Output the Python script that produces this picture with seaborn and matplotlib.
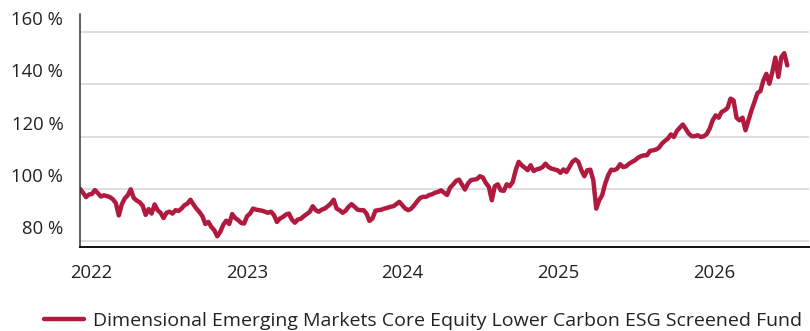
import matplotlib
matplotlib.use("Agg")
import matplotlib.pyplot as plt
import matplotlib.dates as mdates
from matplotlib.transforms import ScaledTranslation
import numpy as np
import pandas as pd
import seaborn as sns

# ---- data -------------------------------------------------------------
fund_name = "Dimensional Emerging Markets Core Equity Lower Carbon ESG Screened Fund"
start_date = "2021-12-06"          # first weekly observation
year_ticks = ["2022", "2023", "2024", "2025", "2026"]
y_ticks = [80, 100, 120, 140, 160]

# weekly growth of 100 (percent of initial value)
values_2022 = [
    100.0, 98.5, 96.8, 97.8, 98.0, 99.5, 98.3, 97.0, 97.5, 97.2,
    96.8, 96.0, 94.5, 89.8, 94.0, 96.3, 97.5, 99.8, 96.5, 95.5,
    94.8, 93.5, 90.0, 92.2, 90.5, 94.0, 91.8, 90.8, 88.8, 90.8,
    91.2, 90.5, 91.8, 91.5, 92.4, 93.7, 94.3, 95.8, 94.0, 92.4,
    91.1, 89.5, 86.5, 87.3, 85.4, 84.1, 81.8, 83.5, 86.2, 87.8,
    86.5, 90.3, 88.8, 88.0, 86.9,
]
values_2023 = [
    86.7, 89.5, 90.5, 92.4, 92.0, 91.8, 91.6, 91.2, 90.8, 91.2,
    89.9, 87.3, 88.6, 89.2, 90.1, 90.5, 88.2, 87.0, 88.2, 88.5,
    89.5, 90.3, 91.2, 93.3, 91.8, 91.2, 92.0, 92.4, 93.3, 94.3,
    95.8, 92.4, 91.8, 90.8, 91.6, 93.1, 94.1, 93.1, 92.0, 91.8,
    91.8, 90.5, 87.7, 88.6, 91.6, 91.8, 92.0, 92.4, 92.7, 93.1,
    93.3, 94.1, 95.0, 93.7, 92.4, 91.8,
]
values_2024 = [
    92.4, 93.7, 95.2, 96.5, 96.9, 96.9, 97.6, 97.9, 98.5, 98.8,
    99.4, 98.5, 97.6, 100.4, 101.6, 103.0, 103.5, 101.6, 99.7, 102.0,
    103.3, 103.5, 103.7, 104.8, 104.3, 102.2, 100.7, 95.6, 101.0, 101.7,
    99.4, 99.2, 101.7, 101.0, 102.6, 107.1, 110.3, 109.0, 108.1, 107.1,
    109.0, 106.8, 107.4, 107.7, 108.3, 109.6, 108.3, 107.7, 107.4, 107.1,
    106.1, 107.4, 106.4,
]
values_2025 = [
    108.3, 110.3, 111.2, 110.3, 107.1, 104.8, 107.1, 107.3, 103.3, 92.4,
    95.6, 97.6, 102.0, 105.2, 107.3, 107.1, 107.7, 109.4, 108.3, 108.6,
    109.6, 110.3, 110.9, 111.9, 112.5, 112.8, 112.8, 114.5, 114.7, 115.0,
    115.7, 117.3, 118.3, 119.2, 120.8, 119.8, 122.1, 123.4, 124.6, 122.9,
]
values_2026 = [
    121.1, 120.1, 120.1, 120.5, 119.8, 120.1, 120.9, 123.0, 126.2, 128.1,
    127.2, 129.4, 130.0, 131.0, 134.5, 133.8, 127.2, 126.2, 127.2, 122.4,
    126.2, 130.0, 133.2, 136.6, 137.4, 141.5, 144.0, 140.2, 144.7, 150.2,
    142.8, 150.4, 151.9, 147.2,
]

values = values_2022 + values_2023 + values_2024 + values_2025 + values_2026
df = pd.DataFrame({
    "date": pd.date_range(start_date, periods=len(values), freq="7D"),
    "value": values,
})

# ---- style ------------------------------------------------------------
sns.set_theme(style="white")
plt.rcParams["font.family"] = ["Open Sans", "DejaVu Sans"]
line_color = "#b01a3e"
text_color = "#222222"

fig = plt.figure(figsize=(8.10, 3.31), dpi=100)
ax = fig.add_axes([80 / 810, 1 - 247 / 331, 729 / 810, 233 / 331])

sns.lineplot(data=df, x="date", y="value", color=line_color, linewidth=3.2,
             label=fund_name, ax=ax, legend=False)

ax.set_xlim(pd.Timestamp("2021-12-06"), pd.Timestamp("2026-08-12"))
ax.set_ylim(77.7, 166.9)

ax.set_xticks([pd.Timestamp(f"{y}-01-01") for y in year_ticks])
ax.xaxis.set_major_formatter(mdates.DateFormatter("%Y"))
ax.set_yticks(y_ticks)
ax.set_yticklabels([f"{v} %" for v in y_ticks])

ax.set_xlabel("")
ax.set_ylabel("")
ax.grid(axis="y", color="#d4d4d4", linewidth=1.1)
ax.grid(axis="x", visible=False)

ax.tick_params(axis="both", length=0, labelsize=13.3, colors=text_color)
ax.tick_params(axis="x", pad=12)
ax.tick_params(axis="y", pad=12)
for lbl in ax.get_yticklabels():
    lbl.set_verticalalignment("bottom")
    lbl.set_transform(lbl.get_transform() + ScaledTranslation(0, 2 / 72, fig.dpi_scale_trans))

for side in ("top", "right"):
    ax.spines[side].set_visible(False)
ax.spines["left"].set_color("#333333")
ax.spines["left"].set_linewidth(1.1)
ax.spines["bottom"].set_color("#111111")
ax.spines["bottom"].set_linewidth(1.4)

handles, labels = ax.get_legend_handles_labels()
leg = fig.legend(handles, labels, loc="center", bbox_to_anchor=(423 / 810, 1 - 321 / 331),
                 frameon=False, fontsize=14, handlelength=2.05, handletextpad=0.5,
                 borderaxespad=0)
for t in leg.get_texts():
    t.set_color(text_color)

fig.savefig("out.png", dpi=100)
